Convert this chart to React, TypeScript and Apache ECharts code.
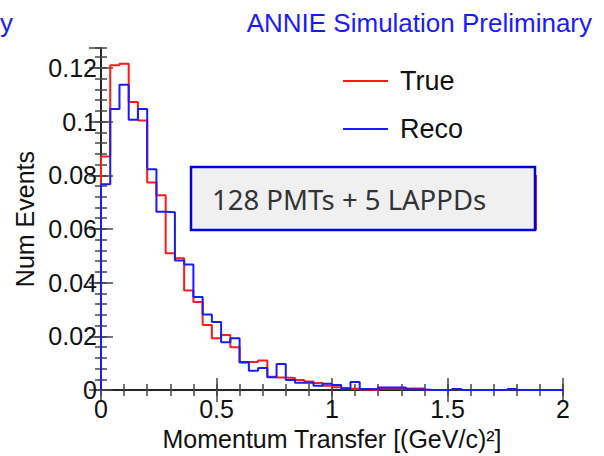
import React, { useEffect, useRef } from "react";
import * as echarts from "echarts";

const BIN_WIDTH = 0.04;
const seriesNames = ["True", "Reco"];
// Normalised counts per 0.04 (GeV/c)^2 bin, 0 to 2
const trueValues = [
  0.087, 0.121, 0.1215, 0.1073, 0.1004, 0.0773, 0.0726, 0.051, 0.0491, 0.0371,
  0.0328, 0.0242, 0.0193, 0.0205, 0.016, 0.0102, 0.0105, 0.011, 0.005, 0.0047,
  0.0045, 0.0038, 0.0032, 0.0026, 0.0016, 0.0011, 0.0008, 0.0005, 0.0002, 0,
  0.0006, 0.0006, 0.0006, 0.0006, 0.0006, 0, 0, 0, 0.0003, 0,
  0, 0, 0, 0, 0.0003, 0, 0, 0, 0, 0,
];
const recoValues = [
  0.0767, 0.1047, 0.1137, 0.1007, 0.1047, 0.0822, 0.0664, 0.0662, 0.0483, 0.0468,
  0.0347, 0.0282, 0.0254, 0.0178, 0.0193, 0.0105, 0.0072, 0.0082, 0.0048, 0.0097,
  0.0038, 0.0027, 0.0027, 0.0016, 0.0024, 0.0019, 0.0005, 0.003, 0.0004, 0.0003,
  0.001, 0.001, 0.001, 0.0003, 0.0002, 0, 0, 0, 0.0004, 0,
  0, 0, 0, 0, 0.0004, 0, 0, 0, 0, 0,
];
const xMin = 0;
const xMax = 2;
const xMajor = 0.5;
const xMinor = 0.1;
const yMin = 0;
const yMax = 0.1274;
const yMajor = 0.02;
const yMinor = 0.004;

const titleText = "ANNIE Simulation Preliminary";
const boxText = "128 PMTs + 5 LAPPDs";
const xTitle = "Momentum Transfer [(GeV/c)²]";
const yTitle = "Num Events";

function stepData(values: number[]) {
  const pts: number[][] = [[xMin, 0]];
  values.forEach((v, i) => pts.push([xMin + i * BIN_WIDTH, v]));
  pts.push([xMax, values[values.length - 1]]);
  pts.push([xMax, 0]);
  return pts;
}

const FONT = "Liberation Sans, Arial, Helvetica, sans-serif";
const tickStyle = { color: "#444", width: 1.5 };

function xAx(position: string, interval: number, len: number, extra: any) {
  return {
    type: "value",
    min: xMin,
    max: xMax,
    interval,
    position,
    splitLine: { show: false },
    axisTick: { show: true, inside: true, length: len, lineStyle: tickStyle },
    axisLabel: { show: false },
    axisLine: { show: false },
    ...extra,
  };
}
function yAx(position: string, interval: number, len: number, extra: any) {
  return {
    type: "value",
    min: yMin,
    max: yMax,
    interval,
    position,
    splitLine: { show: false },
    axisTick: { show: true, inside: true, length: len, lineStyle: tickStyle },
    axisLabel: { show: false },
    axisLine: { show: false },
    ...extra,
  };
}

export default function App() {
  const ref = useRef<HTMLDivElement>(null);
  useEffect(() => {
    if (!ref.current) return;
    const chart = echarts.init(ref.current, undefined, { renderer: "svg" });
    chart.setOption({
      animation: false,
      backgroundColor: "#ffffff",
      grid: { left: 101, top: 48, right: 41, bottom: 64 },
      legend: {
        data: seriesNames,
        orient: "vertical",
        left: 343,
        top: 66,
        padding: 0,
        itemWidth: 45,
        itemHeight: 2,
        itemGap: 18,
        icon: "rect",
        textStyle: {
          fontFamily: FONT,
          fontSize: 27,
          color: "#111",
          lineHeight: 30,
          padding: [0, 0, 0, 7],
        },
      },
      xAxis: [
        xAx("bottom", xMajor, 12, {
          axisLine: { show: true, lineStyle: { color: "#000", width: 2 } },
          axisLabel: { show: true, fontFamily: FONT, fontSize: 25, color: "#111", margin: 6 },
          name: xTitle,
          nameLocation: "middle",
          nameGap: 27,
          nameTextStyle: { fontFamily: FONT, fontSize: 25, color: "#111" },
        }),
        xAx("bottom", xMinor, 6, {}),
        xAx("top", xMajor, 12, {
          axisLine: { show: true, lineStyle: { color: "#333", width: 1.5 } },
        }),
        xAx("top", xMinor, 6, {}),
      ],
      yAxis: [
        yAx("left", yMajor, 12, {
          axisLine: { show: true, lineStyle: { color: "#000", width: 2 } },
          axisLabel: {
            show: true,
            fontFamily: FONT,
            fontSize: 25,
            color: "#111",
            margin: 4,
            showMaxLabel: false,
          },
          name: yTitle,
          nameLocation: "middle",
          nameGap: 60,
          nameTextStyle: { fontFamily: FONT, fontSize: 25, color: "#111" },
        }),
        yAx("left", yMinor, 6, {}),
        yAx("right", yMajor, 12, {
          axisLine: { show: true, lineStyle: { color: "#333", width: 1.5 } },
        }),
        yAx("right", yMinor, 6, {}),
      ],
      series: [
        {
          name: seriesNames[0],
          type: "line",
          step: "end",
          symbol: "none",
          data: stepData(trueValues),
          lineStyle: { color: "#ff1a1a", width: 2 },
          itemStyle: { color: "#ff1a1a" },
          xAxisIndex: 0,
          yAxisIndex: 0,
        },
        {
          name: seriesNames[1],
          type: "line",
          step: "end",
          symbol: "none",
          data: stepData(recoValues),
          lineStyle: { color: "#1a1aff", width: 2 },
          itemStyle: { color: "#1a1aff" },
          xAxisIndex: 0,
          yAxisIndex: 0,
        },
      ],
      graphic: [
        {
          type: "text",
          x: 592,
          y: 23,
          style: {
            text: titleText,
            fontFamily: FONT,
            fontSize: 26,
            fill: "#1a1aff",
            align: "right",
            verticalAlign: "middle",
          },
        },
        {
          type: "text",
          x: 0,
          y: 23,
          style: {
            text: "y",
            fontFamily: FONT,
            fontSize: 26,
            fill: "#1a1aff",
            align: "left",
            verticalAlign: "middle",
          },
        },
        {
          type: "line",
          shape: { x1: 536, y1: 175, x2: 536, y2: 230 },
          style: { stroke: "#ff1a1a", lineWidth: 2 },
          z: 10,
        },
        {
          type: "rect",
          shape: { x: 191, y: 167, width: 344, height: 63 },
          style: { fill: "#f0f0f0", stroke: "#0000e6", lineWidth: 2.5 },
          z: 11,
        },
        {
          type: "text",
          x: 212,
          y: 199,
          style: {
            text: boxText,
            fontFamily: "Noto Sans, Open Sans, sans-serif",
            fontSize: 27.5,
            fill: "#333",
            align: "left",
            verticalAlign: "middle",
          },
          z: 12,
        },
      ],
    });
    return () => chart.dispose();
  }, []);
  return (
    <div
      ref={ref}
      style={{ position: "absolute", left: 0, top: 0, width: 604, height: 456, background: "#fff" }}
    />
  );
}
